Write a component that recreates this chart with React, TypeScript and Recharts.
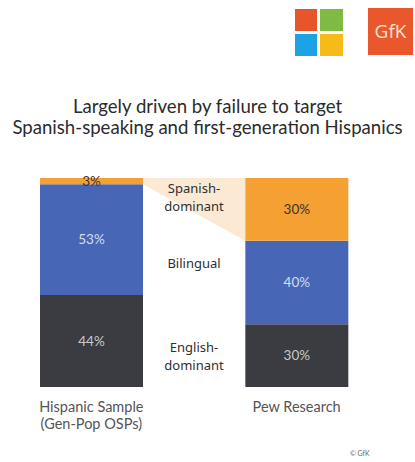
import { Bar, BarChart, LabelList, XAxis, YAxis } from 'recharts'

// middle category is left empty: it holds the segment labels
const categories = ['Hispanic Sample|(Gen-Pop OSPs)', '', 'Pew Research']
const englishDominant = [44, null, 30]
const bilingual = [53, null, 40]
const spanishDominant = [3, null, 30]
const segmentLabels = ['Spanish-|dominant', 'Bilingual', 'English-|dominant']

const data = categories.map((name, i) => ({
  name,
  english: englishDominant[i],
  bilingual: bilingual[i],
  spanish: spanishDominant[i],
}))

const FONT = 'Lato, "Noto Sans", sans-serif'
const rects: Record<number, { x: number; y: number; width: number; height: number }> = {}

function SpanishShape(props: any) {
  const { x, y, width, height, index, fill } = props
  rects[index] = { x, y, width, height }
  const first = rects[0]
  return (
    <g>
      {index === 2 && first && (
        <polygon
          points={`${first.x + first.width},${first.y} ${x},${y} ${x},${y + height} ${first.x + first.width},${first.y + first.height}`}
          fill="#fce9d3"
        />
      )}
      <rect x={x} y={y} width={width} height={height} fill={fill} />
    </g>
  )
}

function CategoryTick(props: any) {
  const { x, y, payload } = props
  const lines = String(payload.value).split('|')
  return (
    <text x={x} y={y} textAnchor="middle" fill="#555" fontSize={14.5} fontFamily={FONT}>
      {lines.map((l, i) => (
        <tspan key={i} x={x} dy={i === 0 ? 25 : 17}>
          {l}
        </tspan>
      ))}
    </text>
  )
}

const pct = (v: any) => (v == null ? '' : `${v}%`)

export default function App() {
  return (
    <div style={{ position: 'absolute', left: 0, top: 0, width: 415, height: 462, background: '#fff', fontFamily: FONT }}>
      {/* logos */}
      <div style={{ position: 'absolute', left: 295, top: 9, width: 22, height: 22, background: '#e9552b' }} />
      <div style={{ position: 'absolute', left: 320, top: 9, width: 23, height: 22, background: '#7fba42' }} />
      <div style={{ position: 'absolute', left: 295, top: 34, width: 22, height: 22, background: '#1ba3e6' }} />
      <div style={{ position: 'absolute', left: 320, top: 34, width: 23, height: 22, background: '#f6bb18' }} />
      <div
        style={{
          position: 'absolute', left: 368, top: 8, width: 45, height: 47, background: '#e8582c',
          color: '#fde3d8', fontSize: 19, lineHeight: '47px', textAlign: 'center', fontFamily: '"Open Sans", sans-serif',
        }}
      >
        GfK
      </div>

      <div style={{ position: 'absolute', left: 0, top: 96, width: 415, textAlign: 'center', color: '#2b2b2b', fontSize: 18.6, lineHeight: '21px' }}>
        Largely driven by failure to target
        <br />
        Spanish-speaking and first-generation Hispanics
      </div>

      <div style={{ position: 'absolute', left: 0, top: 0 }}>
        <BarChart width={415} height={462} data={data} margin={{ top: 178, right: 67, bottom: 15, left: 40 }} barCategoryGap={0}>
          <YAxis hide domain={[0, 100]} />
          <XAxis dataKey="name" axisLine={false} tickLine={false} tickSize={0} tickMargin={0} height={60} tick={<CategoryTick />} interval={0} />
          <Bar dataKey="english" stackId="a" fill="#3a3c41" isAnimationActive={false}>
            <LabelList dataKey="english" position="center" formatter={pct} fill="#c9c9c9" fontSize={13.5} fontFamily={FONT} />
          </Bar>
          <Bar dataKey="bilingual" stackId="a" fill="#4767b6" isAnimationActive={false}>
            <LabelList dataKey="bilingual" position="center" formatter={pct} fill="#d4dcf0" fontSize={13.5} fontFamily={FONT} />
          </Bar>
          <Bar dataKey="spanish" stackId="a" fill="#f5a032" shape={<SpanishShape />} isAnimationActive={false}>
            <LabelList dataKey="spanish" position="center" formatter={pct} fill="#3b342a" fontSize={13.5} fontFamily={FONT} />
          </Bar>
        </BarChart>
      </div>

      {segmentLabels.map((s, i) => (
        <div
          key={s}
          style={{
            position: 'absolute', left: 142, width: 104, top: [180, 255, 339][i], textAlign: 'center',
            color: '#2f2f2f', fontSize: 13, lineHeight: '17.5px', fontFamily: '"Noto Sans", sans-serif', fontWeight: 400,
          }}
        >
          {s.split('|').map((l) => (
            <div key={l}>{l}</div>
          ))}
        </div>
      ))}

      <div style={{ position: 'absolute', left: 350, top: 449, fontSize: 7, color: '#666' }}>© GfK</div>
    </div>
  )
}
